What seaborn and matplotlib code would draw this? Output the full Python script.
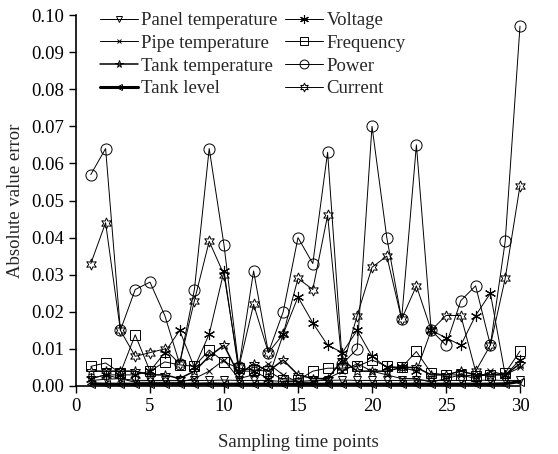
import matplotlib
matplotlib.use("Agg")
import matplotlib.pyplot as plt
import seaborn as sns
import pandas as pd
from matplotlib.ticker import FormatStrFormatter

# ---- data ----
time_points = list(range(1, 31))

panel_temperature = [0.0015, 0.0018, 0.0020, 0.0015, 0.0015, 0.0015, 0.0015, 0.0015, 0.0015, 0.0016,
                     0.0015, 0.0015, 0.0015, 0.0012, 0.0012, 0.0015, 0.0015, 0.0016, 0.0015, 0.0015,
                     0.0015, 0.0015, 0.0016, 0.0015, 0.0015, 0.0015, 0.0015, 0.0016, 0.0015, 0.0015]
pipe_temperature = [0.002, 0.003, 0.002, 0.001, 0.001, 0.001, 0.001, 0.002, 0.004, 0.007,
                    0.002, 0.003, 0.006, 0.003, 0.001, 0.001, 0.002, 0.004, 0.006, 0.004,
                    0.003, 0.002, 0.002, 0.001, 0.002, 0.003, 0.002, 0.004, 0.003, 0.005]
tank_temperature = [0.004, 0.004, 0.004, 0.004, 0.003, 0.003, 0.002, 0.004, 0.008, 0.011,
                    0.003, 0.006, 0.004, 0.007, 0.003, 0.002, 0.002, 0.007, 0.004, 0.004,
                    0.004, 0.005, 0.005, 0.003, 0.003, 0.004, 0.003, 0.003, 0.003, 0.006]
tank_level = [0.0006, 0.0005, 0.0005, 0.0005, 0.0005, 0.0005, 0.0005, 0.0005, 0.0006, 0.0005,
              0.0005, 0.0005, 0.0005, 0.0005, 0.0005, 0.0005, 0.0005, 0.0005, 0.0005, 0.0005,
              0.0005, 0.0005, 0.0005, 0.0005, 0.0005, 0.0005, 0.0005, 0.0005, 0.0006, 0.0012]
voltage = [0.002, 0.003, 0.003, 0.003, 0.004, 0.009, 0.015, 0.005, 0.014, 0.031,
           0.004, 0.004, 0.002, 0.014, 0.024, 0.017, 0.011, 0.009, 0.015, 0.008,
           0.005, 0.005, 0.004, 0.015, 0.013, 0.011, 0.019, 0.025, 0.003, 0.007]
frequency = [0.0053, 0.0062, 0.0035, 0.0138, 0.0040, 0.0065, 0.0057, 0.0053, 0.0097, 0.0065,
             0.0048, 0.0043, 0.0040, 0.0016, 0.0016, 0.0040, 0.0048, 0.0048, 0.0053, 0.0070,
             0.0053, 0.0050, 0.0093, 0.0035, 0.0030, 0.0030, 0.0027, 0.0030, 0.0035, 0.0094]
power = [0.057, 0.064, 0.015, 0.026, 0.028, 0.019, 0.006, 0.026, 0.064, 0.038,
         0.005, 0.031, 0.009, 0.020, 0.040, 0.033, 0.063, 0.006, 0.010, 0.070,
         0.040, 0.018, 0.065, 0.015, 0.011, 0.023, 0.027, 0.011, 0.039, 0.097]
current = [0.033, 0.044, 0.015, 0.008, 0.009, 0.010, 0.006, 0.023, 0.039, 0.030,
           0.005, 0.022, 0.009, 0.014, 0.029, 0.026, 0.046, 0.005, 0.019, 0.032,
           0.035, 0.018, 0.027, 0.015, 0.019, 0.019, 0.004, 0.011, 0.029, 0.054]

series_names = ["Panel temperature", "Pipe temperature", "Tank temperature", "Tank level",
                "Voltage", "Frequency", "Power", "Current"]
series_values = [panel_temperature, pipe_temperature, tank_temperature, tank_level,
                 voltage, frequency, power, current]

x_ticks = [0, 5, 10, 15, 20, 25, 30]
y_ticks = [0.00, 0.01, 0.02, 0.03, 0.04, 0.05, 0.06, 0.07, 0.08, 0.09, 0.10]

# ---- style ----
sns.set_style("ticks")
plt.rcParams["font.family"] = ["Liberation Serif", "DejaVu Serif"]
plt.rcParams["font.size"] = 13.5

styles = {
    "Panel temperature": dict(marker="v", ms=6, lw=0.7, mew=0.7),
    "Pipe temperature": dict(marker="x", ms=4, lw=0.7, mew=0.7),
    "Tank temperature": dict(marker="*", ms=7, lw=1.1, mew=0.7),
    "Tank level": dict(marker="<", ms=6, lw=2.2, mew=0.7),
    "Voltage": dict(marker=(6, 2, 0), ms=8, lw=0.7, mew=0.8),
    "Frequency": dict(marker="s", ms=7, lw=0.7, mew=0.7),
    "Power": dict(marker="o", ms=8, lw=0.7, mew=0.7),
    "Current": dict(marker=(6, 1, 0), ms=8, lw=0.7, mew=0.7),
}

fig = plt.figure(figsize=(5.58, 4.54), dpi=100)
ax = fig.add_axes([76 / 558, 1 - 386 / 454, (520 - 76) / 558, (386 - 15) / 454])

for name, vals in zip(series_names, series_values):
    df = pd.DataFrame({"t": time_points, "err": vals})
    st = styles[name]
    sns.lineplot(data=df, x="t", y="err", ax=ax, color="black", label=name,
                 marker=st["marker"], markersize=st["ms"], linewidth=st["lw"],
                 markerfacecolor="none", markeredgecolor="black",
                 markeredgewidth=st["mew"], clip_on=False)

ax.set_xlim(0, 30)
ax.set_ylim(0, 0.10)
ax.set_xticks(x_ticks)
ax.set_yticks(y_ticks)
ax.yaxis.set_major_formatter(FormatStrFormatter("%.2f"))
ax.tick_params(direction="out", length=5, width=1, colors="black", labelsize=13.5)
for s in ["top", "right"]:
    ax.spines[s].set_visible(False)
for s in ["left", "bottom"]:
    ax.spines[s].set_color("black")
    ax.spines[s].set_linewidth(1.2)

ax.set_xlabel("Sampling time points", fontsize=13.5, labelpad=14)
ax.set_ylabel("Absolute value error", fontsize=13.5, labelpad=5)

ax.legend(ncol=2, loc="upper left", bbox_to_anchor=(100 / 558, 1 - 12 / 454),
          bbox_transform=fig.transFigure, frameon=False, fontsize=13.5,
          handlelength=2.0, handletextpad=0.2, columnspacing=0.4,
          labelspacing=0.3, borderpad=0, borderaxespad=0, markerscale=0.8)

fig.savefig("out.png", dpi=100)
